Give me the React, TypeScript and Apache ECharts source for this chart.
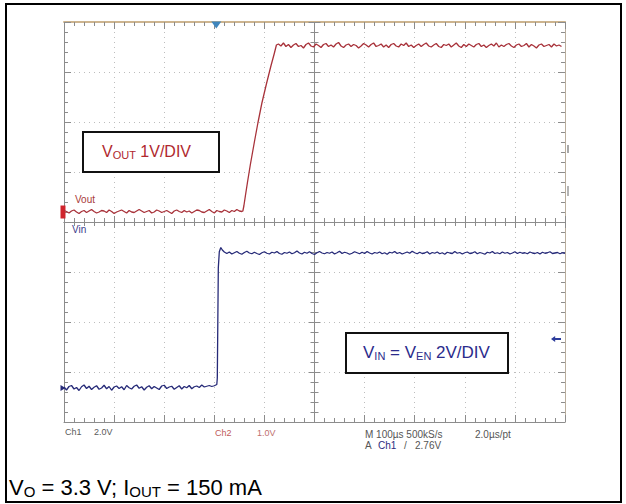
import React, { useEffect, useRef } from "react";
import * as echarts from "echarts";

// ---- time base (µs, trigger at 0), 100 µs/div, 10 divisions ----
const T_MIN = -300;
const T_MAX = 700;
const T_DIV = 100;
const T_STEP = 5;

// ---- Vout (Ch2, 1 V/div) ----
const VOUT_PRE_START = -300;
const voutPre = [
  0.03, 0.01, -0.02, 0.02, 0.04, 0.0, -0.03, 0.01, 0.03, -0.01,
  0.02, 0.05, 0.01, -0.02, 0.0, 0.03, 0.02, -0.01, 0.04, 0.01,
  -0.03, 0.0, 0.02, 0.04, 0.01, -0.02, 0.03, 0.0, -0.01, 0.02,
  0.05, 0.02, -0.01, 0.01, 0.03, -0.02, 0.0, 0.04, 0.02, -0.01,
  0.01, 0.03, 0.0, -0.03, 0.02, 0.04, 0.01, -0.01, 0.03, 0.0,
  0.02, -0.02, 0.01, 0.04, 0.03, 0.0, -0.01, 0.02, 0.05, 0.01,
  -0.02, 0.03, 0.01, 0.0, 0.04, 0.02, -0.01, 0.03, 0.01, 0.05,
  0.02, 0.01,
];
const voutRampT = [57, 59, 62, 66, 72, 80, 87, 95, 104, 113, 120, 124];
const voutRampV = [0.02, 0.12, 0.32, 0.58, 0.95, 1.4, 1.78, 2.18, 2.56, 2.92, 3.18, 3.34];
const VOUT_POST_START = 128;
const voutPost = [
  3.36, 3.32, 3.38, 3.31, 3.35, 3.29, 3.34, 3.37, 3.31,
  3.33, 3.28, 3.35, 3.38, 3.32, 3.3, 3.36, 3.33, 3.29, 3.35,
  3.37, 3.31, 3.34, 3.3, 3.36, 3.39, 3.32, 3.29, 3.34, 3.36,
  3.31, 3.35, 3.33, 3.28, 3.32, 3.37, 3.34, 3.3, 3.35, 3.38,
  3.31, 3.33, 3.36, 3.3, 3.34, 3.29, 3.35, 3.37, 3.32, 3.3,
  3.36, 3.33, 3.38, 3.31, 3.34, 3.29, 3.33, 3.36, 3.31, 3.35,
  3.38, 3.32, 3.3, 3.34, 3.37, 3.31, 3.29, 3.35, 3.33, 3.36,
  3.3, 3.34, 3.38, 3.32, 3.29, 3.35, 3.31, 3.36, 3.33, 3.3,
  3.35, 3.37, 3.31, 3.34, 3.29, 3.33, 3.36, 3.32, 3.38, 3.3,
  3.34, 3.31, 3.35, 3.37, 3.32, 3.29, 3.34, 3.36, 3.31, 3.33,
  3.37, 3.3, 3.35, 3.32, 3.28, 3.34, 3.36, 3.31, 3.33, 3.35,
  3.3, 3.36, 3.32, 3.34, 3.31,
];
// Ch2 ground position: 4.2 div above bottom; 1 V/div
const VOUT_AXIS_MIN = -4.2;
const VOUT_AXIS_MAX = 3.8;

// ---- Vin = Ven (Ch1, 2 V/div) ----
const VIN_PRE_START = -300;
const vinPre = [
  0.04, -0.08, 0.06, 0.1, -0.04, 0.02, -0.1, 0.05, 0.12, -0.02,
  0.07, -0.06, 0.03, 0.09, -0.05, 0.0, 0.11, -0.03, 0.06, -0.09,
  0.04, 0.08, -0.02, 0.05, -0.07, 0.1, 0.01, -0.04, 0.07, 0.12,
  -0.01, 0.05, -0.08, 0.03, 0.09, -0.03, 0.06, 0.0, -0.06, 0.08,
  0.11, -0.02, 0.04, 0.07, -0.05, 0.02, 0.09, -0.04, 0.06, 0.01,
  0.1, -0.03, 0.05, 0.08, 0.02, 0.12, 0.04, 0.07, 0.1, 0.06,
  0.09, 0.14,
];
const vinEdgeT = [6, 7, 8, 10, 13, 16, 20];
const vinEdgeV = [0.4, 2.6, 4.8, 5.45, 5.62, 5.52, 5.44];
const VIN_POST_START = 25;
const vinPost = [
  5.38, 5.44, 5.36, 5.41, 5.46, 5.39, 5.35, 5.42, 5.47, 5.4,
  5.37, 5.43, 5.38, 5.34, 5.41, 5.45, 5.39, 5.36, 5.43, 5.4,
  5.46, 5.38, 5.35, 5.42, 5.39, 5.44, 5.37, 5.41, 5.48, 5.4,
  5.36, 5.43, 5.39, 5.45, 5.38, 5.34, 5.41, 5.46, 5.4, 5.37,
  5.42, 5.39, 5.44, 5.36, 5.41, 5.47, 5.38, 5.43, 5.4, 5.35,
  5.39, 5.45, 5.41, 5.37, 5.43, 5.38, 5.46, 5.4, 5.36, 5.42,
  5.39, 5.44, 5.37, 5.41, 5.35, 5.43, 5.4, 5.46, 5.38, 5.42,
  5.36, 5.4, 5.44, 5.39, 5.47, 5.41, 5.37, 5.43, 5.38, 5.4,
  5.45, 5.36, 5.42, 5.39, 5.44, 5.37, 5.41, 5.35, 5.43, 5.4,
  5.38, 5.46, 5.39, 5.42, 5.36, 5.41, 5.44, 5.38, 5.4, 5.45,
  5.37, 5.42, 5.39, 5.35, 5.43, 5.4, 5.46, 5.38, 5.41, 5.37,
  5.44, 5.39, 5.42, 5.36, 5.4, 5.45, 5.38, 5.43, 5.39, 5.41,
  5.37, 5.44, 5.4, 5.38, 5.42, 5.36, 5.43, 5.39, 5.41, 5.45,
  5.38, 5.4, 5.42, 5.37, 5.41, 5.39,
];
// Ch1 ground position: 0.68 div above bottom; 2 V/div
const VIN_AXIS_MIN = -1.36;
const VIN_AXIS_MAX = 14.64;
const TRIGGER_LEVEL = 1.96;

// ---- texts ----
const scopeBottomLeft = ["Ch1", "2.0V", "Ch2", "1.0V"];
const scopeTimebase = ["M 100µs 500kS/s", "2.0µs/pt"];
const scopeTrigger = ["A", "Ch1", "/", "2.76V"];

const FONT = "Arial, 'Liberation Sans', Helvetica, sans-serif";
const RED = "#a8323a";
const NAVY = "#262a78";
const RED_TXT = "#b0282e";
const NAVY_TXT = "#2b2b8c";
const TICK = "#8c8c8c";

const GRID_LEFT = 64;
const GRID_TOP = 22;
const GRID_W = 501;
const GRID_H = 400;

function buildSeries(preStart: number, pre: number[], midT: number[], midV: number[], postStart: number, post: number[]) {
  const out: number[][] = [];
  pre.forEach((v, i) => out.push([preStart + i * T_STEP, v]));
  midT.forEach((t, i) => out.push([t, midV[i]]));
  post.forEach((v, i) => out.push([postStart + i * T_STEP, v]));
  return out;
}

const dotted = { show: true, lineStyle: { color: "#bdbdbd", width: 1, type: [1, 4] } };

function xAxisDef(position: string, opts: any) {
  return {
    type: "value",
    min: T_MIN,
    max: T_MAX,
    interval: T_DIV,
    position,
    offset: opts.offset || 0,
    axisLine: { show: true, onZero: false, lineStyle: { color: opts.lineColor || TICK, width: opts.lineWidth || 1 } },
    axisTick: { show: true, inside: opts.inside, length: opts.major, lineStyle: { color: TICK } },
    minorTick: { show: true, splitNumber: 5, length: opts.minor, lineStyle: { color: TICK } },
    axisLabel: { show: false },
    splitLine: opts.split ? dotted : { show: false },
  };
}

function yAxisDef(position: string, opts: any) {
  return {
    type: "value",
    min: 0,
    max: 8,
    interval: 1,
    position,
    offset: opts.offset || 0,
    axisLine: { show: true, onZero: false, lineStyle: { color: opts.lineColor || TICK, width: 1 } },
    axisTick: { show: true, inside: opts.inside, length: opts.major, lineStyle: { color: TICK } },
    minorTick: { show: true, splitNumber: 5, length: opts.minor, lineStyle: { color: TICK } },
    axisLabel: { show: false },
    splitLine: opts.split ? dotted : { show: false },
  };
}

function txt(x: number, y: number, text: string, fill: string, size: number) {
  return {
    type: "text",
    x,
    y,
    z: 101,
    silent: true,
    style: { text, fill, fontSize: size, fontFamily: FONT, verticalAlign: "middle", align: "left" },
  };
}

function richTxt(x: number, y: number, text: string, fill: string, size: number, sub: number, lh: number, subLh: number) {
  return {
    type: "text",
    x,
    y,
    z: 101,
    silent: true,
    style: {
      text,
      verticalAlign: "middle",
      align: "left",
      fill,
      fontSize: size,
      fontFamily: FONT,
      rich: {
        v: { fontSize: size, lineHeight: lh, fill, color: fill, fontFamily: FONT },
        s: { fontSize: sub, lineHeight: subLh, verticalAlign: "bottom", fill, color: fill, fontFamily: FONT },
      },
    },
  };
}

export default function App() {
  const ref = useRef<HTMLDivElement>(null);
  useEffect(() => {
    const chart = echarts.init(ref.current!, null, { renderer: "svg" });
    const voutData = buildSeries(VOUT_PRE_START, voutPre, voutRampT, voutRampV, VOUT_POST_START, voutPost);
    const vinData = buildSeries(VIN_PRE_START, vinPre, vinEdgeT, vinEdgeV, VIN_POST_START, vinPost);

    const option: any = {
      animation: false,
      backgroundColor: "#ffffff",
      grid: { left: GRID_LEFT, top: GRID_TOP, width: GRID_W, height: GRID_H, show: false },
      xAxis: [
        xAxisDef("bottom", { inside: true, major: 7, minor: 4, split: true }),
        xAxisDef("top", { inside: true, major: 7, minor: 4, lineColor: "#cdb48e", lineWidth: 2 }),
        xAxisDef("bottom", { inside: true, major: 6, minor: 4, offset: -GRID_H / 2 }),
        xAxisDef("bottom", { inside: false, major: 6, minor: 4, offset: -GRID_H / 2 }),
      ],
      yAxis: [
        yAxisDef("left", { inside: true, major: 7, minor: 4, split: true }),
        yAxisDef("right", { inside: true, major: 7, minor: 4, lineColor: "#b9ad9c" }),
        yAxisDef("left", { inside: true, major: 6, minor: 4, offset: -GRID_W / 2 }),
        yAxisDef("left", { inside: false, major: 6, minor: 4, offset: -GRID_W / 2 }),
        { type: "value", min: VOUT_AXIS_MIN, max: VOUT_AXIS_MAX, show: false, splitLine: { show: false } },
        { type: "value", min: VIN_AXIS_MIN, max: VIN_AXIS_MAX, show: false, splitLine: { show: false } },
      ],
      series: [
        {
          name: "Vout",
          type: "line",
          xAxisIndex: 0,
          yAxisIndex: 4,
          data: voutData,
          showSymbol: false,
          symbol: "none",
          z: 5,
          lineStyle: { color: RED, width: 1.3 },
          markPoint: {
            silent: true,
            label: { show: false },
            data: [
              { coord: [T_MIN, 0], symbol: "rect", symbolSize: [5, 13], symbolOffset: [-1, 0], itemStyle: { color: "#d0242c" } },
            ],
          },
        },
        {
          name: "Vin",
          type: "line",
          xAxisIndex: 0,
          yAxisIndex: 5,
          data: vinData,
          showSymbol: false,
          symbol: "none",
          z: 6,
          lineStyle: { color: NAVY, width: 1.3 },
          markPoint: {
            silent: true,
            label: { show: false },
            data: [
              { coord: [T_MIN, 0], symbol: "triangle", symbolRotate: -90, symbolSize: [6, 5], symbolOffset: [-1, 0], itemStyle: { color: NAVY } },
              { coord: [0, VIN_AXIS_MAX], symbol: "triangle", symbolRotate: 180, symbolSize: [10, 7], symbolOffset: [2, 3], itemStyle: { color: "#3f86bd" } },
              {
                coord: [T_MAX, TRIGGER_LEVEL],
                symbol: "path://M0,5 L5,0 L5,3.5 L12,3.5 L12,6.5 L5,6.5 L5,10 Z",
                symbolSize: [10, 6],
                symbolOffset: [-9, 0],
                itemStyle: { color: "#2c3c9c" },
              },
            ],
          },
        },
      ],
      graphic: [
        { type: "rect", z: 100, silent: true, shape: { x: 6, y: 4, width: 615, height: 498 }, style: { fill: "none", stroke: "#000", lineWidth: 2 } },
        { type: "rect", z: 100, silent: true, shape: { x: 567, y: 145, width: 2, height: 8 }, style: { fill: "#a8a8a8" } },
        { type: "rect", z: 100, silent: true, shape: { x: 567, y: 186, width: 2, height: 10 }, style: { fill: "#b4b4b4" } },
        txt(75, 199.5, "Vout", "#a83a3a", 10),
        txt(72, 229.5, "Vin", "#3b3b8b", 10),
        { type: "rect", z: 100, silent: true, shape: { x: 83, y: 132, width: 136, height: 40 }, style: { fill: "#fff", stroke: "#111", lineWidth: 2 } },
        richTxt(102, 151, "{v|V}{s|OUT}{v| 1V/DIV}", RED_TXT, 16, 11, 18, 10),
        { type: "rect", z: 100, silent: true, shape: { x: 346, y: 333, width: 162, height: 40 }, style: { fill: "#fff", stroke: "#111", lineWidth: 2 } },
        richTxt(363, 352, "{v|V}{s|IN}{v| = V}{s|EN}{v| 2V/DIV}", NAVY_TXT, 17, 11, 19, 11),
        txt(65, 432, scopeBottomLeft[0], "#5a5a5a", 9),
        txt(94, 432, scopeBottomLeft[1], "#5a5a5a", 9),
        txt(215, 433, scopeBottomLeft[2], "#c05a5a", 9),
        txt(257, 433, scopeBottomLeft[3], "#c07070", 9),
        txt(365, 434, scopeTimebase[0], "#555555", 10),
        txt(475, 434, scopeTimebase[1], "#555555", 10),
        txt(365, 445, scopeTrigger[0], "#555555", 10),
        txt(378, 445, scopeTrigger[1], "#2c2c80", 10),
        txt(404, 445, scopeTrigger[2], "#555555", 10),
        txt(415, 445, scopeTrigger[3], "#555555", 10),
        richTxt(9, 487, "{v|V}{s|O}{v| = 3.3 V; I}{s|OUT}{v| = 150 mA}", "#000000", 22, 15, 24, 13),
      ],
    };
    chart.setOption(option);
    return () => chart.dispose();
  }, []);
  return (
    <div
      ref={ref}
      style={{ position: "fixed", left: 0, top: 0, width: 626, height: 504, background: "#fff" }}
    />
  );
}
